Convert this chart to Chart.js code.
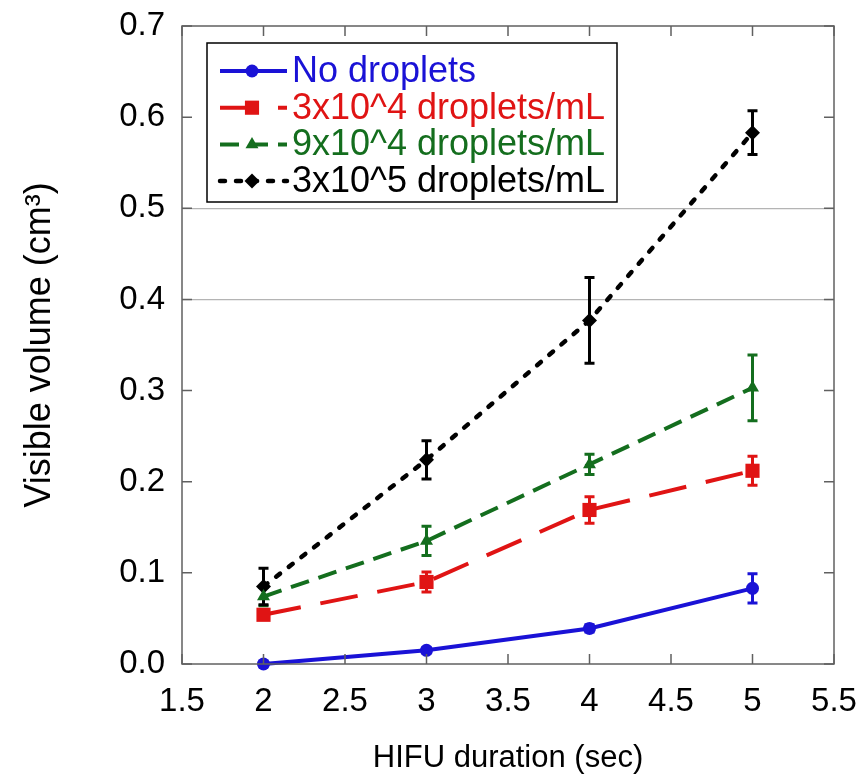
<!DOCTYPE html>
<html><head><meta charset="utf-8">
<script src="https://cdn.jsdelivr.net/npm/chart.js@4.4.0/dist/chart.umd.min.js"></script>
<style>html,body{margin:0;padding:0;background:#fff}#wrap{width:864px;height:781px;position:relative}</style>
</head><body><div id="wrap"><canvas id="c" width="864" height="781"></canvas></div>
<script>
// ---- data ----
const durations = [2, 3, 4, 5];
const seriesLabels = ['No droplets', '3x10^4 droplets/mL', '9x10^4 droplets/mL', '3x10^5 droplets/mL'];
const noDroplets    = [0.000, 0.015, 0.039, 0.083];
const noDropletsErr = [0.003, 0.003, 0.004, 0.016];
const d3e4          = [0.054, 0.090, 0.169, 0.212];
const d3e4Err       = [0.005, 0.011, 0.0145, 0.016];
const d9e4          = [0.074, 0.135, 0.219, 0.303];
const d9e4Err       = [0.010, 0.016, 0.011, 0.036];
const d3e5          = [0.085, 0.224, 0.377, 0.583];
const d3e5Err       = [0.020, 0.021, 0.047, 0.024];
const xTickLabels = ['1.5', '2', '2.5', '3', '3.5', '4', '4.5', '5', '5.5'];
const yTickLabels = ['0.0', '0.1', '0.2', '0.3', '0.4', '0.5', '0.6', '0.7'];
const xTitle = 'HIFU duration (sec)';
const yTitle = 'Visible volume (cm\u00B3)';

const FONT = "'Liberation Sans', Arial, Helvetica, sans-serif";
const colors = ['#1a12d6', '#e01414', '#146e1e', '#000000'];
const values = [noDroplets, d3e4, d9e4, d3e5];
const errors = [noDropletsErr, d3e4Err, d9e4Err, d3e5Err];
const styles = [
  {pointStyle: 'circle',   r: 6.5, dash: [],       width: 4,   cap: 'butt'},
  {pointStyle: 'rect',     r: 10,  dash: [38, 20], width: 4,   cap: 'butt'},
  {pointStyle: 'triangle', r: 7.5, dash: [19, 10], width: 4,   cap: 'butt'},
  {pointStyle: 'rectRot',  r: 7.5, dash: [5, 11],  width: 4.5, cap: 'round'}
];

const datasets = seriesLabels.map((lab, k) => ({
  label: lab,
  data: durations.map((x, i) => ({x: x, y: values[k][i]})),
  errs: errors[k],
  borderColor: colors[k],
  backgroundColor: colors[k],
  borderWidth: styles[k].width,
  borderDash: styles[k].dash,
  borderCapStyle: styles[k].cap,
  pointStyle: styles[k].pointStyle,
  pointRadius: styles[k].r,
  pointBorderWidth: 0,
  pointBackgroundColor: colors[k],
  tension: 0,
  fill: false,
  clip: false
}));

const errorBars = {
  id: 'errorBars',
  beforeDatasetsDraw(chart) {
    const ctx = chart.ctx, xs = chart.scales.x, ys = chart.scales.y;
    ctx.save();
    chart.data.datasets.forEach(ds => {
      ctx.strokeStyle = ds.borderColor;
      ctx.lineWidth = 3;
      ctx.setLineDash([]);
      ds.data.forEach((p, i) => {
        const e = ds.errs[i];
        const px = xs.getPixelForValue(p.x);
        const y1 = ys.getPixelForValue(p.y + e), y2 = ys.getPixelForValue(p.y - e);
        ctx.beginPath();
        ctx.moveTo(px, y1); ctx.lineTo(px, y2);
        ctx.moveTo(px - 5, y1); ctx.lineTo(px + 5, y1);
        ctx.moveTo(px - 5, y2); ctx.lineTo(px + 5, y2);
        ctx.stroke();
      });
    });
    ctx.restore();
  }
};

const frame = {
  id: 'frame',
  afterDatasetsDraw(chart) {
    const ctx = chart.ctx, a = chart.chartArea, xs = chart.scales.x, ys = chart.scales.y;
    ctx.save();
    ctx.strokeStyle = '#606060';
    ctx.lineWidth = 1.5;
    ctx.setLineDash([]);
    ctx.strokeRect(a.left, a.top, a.right - a.left, a.bottom - a.top);
    ctx.beginPath();
    xs.ticks.forEach(t => {
      const px = xs.getPixelForValue(t.value);
      ctx.moveTo(px, a.bottom); ctx.lineTo(px, a.bottom - 10);
      ctx.moveTo(px, a.top); ctx.lineTo(px, a.top + 10);
    });
    ys.ticks.forEach(t => {
      const py = ys.getPixelForValue(t.value);
      ctx.moveTo(a.left, py); ctx.lineTo(a.left + 10, py);
      ctx.moveTo(a.right, py); ctx.lineTo(a.right - 10, py);
    });
    ctx.stroke();
    ctx.restore();
  }
};

const legendBox = {
  id: 'legendBox',
  afterDraw(chart) {
    const ctx = chart.ctx, a = chart.chartArea;
    const L = a.left + 25, T = a.top + 17, W = 410, H = 159;
    ctx.save();
    ctx.fillStyle = '#fff';
    ctx.fillRect(L, T, W, H);
    ctx.strokeStyle = '#000';
    ctx.lineWidth = 1.5;
    ctx.setLineDash([]);
    ctx.strokeRect(L, T, W, H);
    chart.data.datasets.forEach((ds, i) => {
      const cy = T + 28 + i * 36.7;
      ctx.strokeStyle = ds.borderColor;
      ctx.lineWidth = ds.borderWidth;
      ctx.lineCap = ds.borderCapStyle;
      ctx.setLineDash(ds.borderDash);
      ctx.beginPath();
      ctx.moveTo(L + 13, cy); ctx.lineTo(L + 80, cy);
      ctx.stroke();
      ctx.setLineDash([]);
      ctx.fillStyle = ds.borderColor;
      Chart.helpers.drawPoint(ctx, {pointStyle: ds.pointStyle, radius: ds.pointRadius, rotation: 0, borderWidth: 0}, L + 45, cy);
      ctx.fillStyle = ds.borderColor;
      ctx.font = '36px ' + FONT;
      ctx.textBaseline = 'middle';
      ctx.textAlign = 'left';
      ctx.fillText(ds.label, L + 85, cy + 1);
    });
    ctx.restore();
  }
};

function noPad(s) { s.paddingTop = 0; s.paddingBottom = 0; s.paddingLeft = 0; s.paddingRight = 0; }

new Chart(document.getElementById('c'), {
  type: 'line',
  data: {datasets: datasets},
  plugins: [errorBars, frame, legendBox],
  options: {
    responsive: false,
    animation: false,
    layout: {padding: {top: 26, right: 30, left: 0, bottom: 0}},
    plugins: {legend: {display: false}, tooltip: {enabled: false}},
    scales: {
      x: {
        type: 'linear', min: 1.5, max: 5.5,
        ticks: {stepSize: 0.5, callback: (v, i) => xTickLabels[i], font: {family: FONT, size: 33}, color: '#000', padding: 18, maxRotation: 0, autoSkip: false},
        grid: {display: false, drawTicks: false},
        border: {display: false},
        title: {display: true, text: xTitle, font: {family: FONT, size: 31}, color: '#000', padding: {top: 0, bottom: 4}},
        afterFit(s) { s.height = 117; noPad(s); }
      },
      y: {
        type: 'linear', min: 0, max: 0.7,
        ticks: {stepSize: 0.1, callback: (v, i) => yTickLabels[i], font: {family: FONT, size: 33}, color: '#000', padding: 17},
        grid: {drawTicks: false, lineWidth: 1.2, color: c => (c.tick && (Math.abs(c.tick.value - 0.4) < 1e-6 || Math.abs(c.tick.value - 0.5) < 1e-6)) ? '#b4b4b4' : 'rgba(0,0,0,0)'},
        border: {display: false},
        title: {display: true, text: yTitle, font: {family: FONT, size: 36}, color: '#000', padding: {top: 18, bottom: 0}},
        afterFit(s) { s.width = 182; noPad(s); }
      }
    }
  }
});
</script>
</body></html>
